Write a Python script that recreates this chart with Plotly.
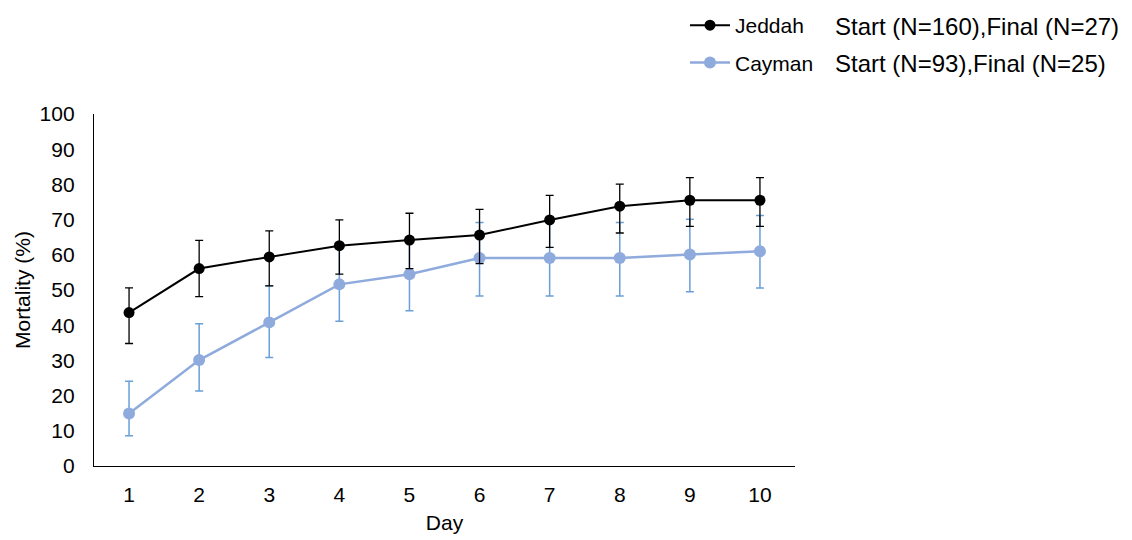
import plotly.graph_objects as go

days = [1, 2, 3, 4, 5, 6, 7, 8, 9, 10]
day_labels = [str(d) for d in days]

jeddah = [43.6, 56.1, 59.4, 62.6, 64.2, 65.6, 69.9, 73.8, 75.5, 75.5]
jeddah_err_up = [7.0, 8.0, 7.4, 7.3, 7.6, 7.3, 7.0, 6.3, 6.4, 6.4]
jeddah_err_down = [8.8, 8.0, 8.2, 8.1, 8.1, 8.1, 7.8, 7.6, 7.4, 7.4]

cayman = [14.9, 30.1, 40.8, 51.6, 54.5, 59.1, 59.1, 59.1, 60.1, 61.0]
cayman_err_up = [9.2, 10.3, 10.4, 10.5, 10.4, 10.1, 10.8, 10.1, 10.0, 10.2]
cayman_err_down = [6.3, 8.8, 10.0, 10.5, 10.4, 10.8, 10.8, 10.8, 10.6, 10.4]

legend_notes = ["Start (N=160),Final (N=27)", "Start (N=93),Final (N=25)"]

FONT = "Liberation Sans, Arial, sans-serif"

# the page body adds an 8px offset; work in figure pixels
OFF = 8
FW, FH = 1132 - OFF, 540 - OFF
L, R, T, B = 94 - OFF, 795 - OFF, 114 - OFF, 466 - OFF
W = R - L
H = B - T


def px_x(sx):
    return (sx - OFF - L) / W


def px_y(sy):
    return 1 + (T - (sy - OFF)) / H


fig = go.Figure()

fig.add_trace(go.Scatter(
    x=days, y=cayman, name="Cayman", mode="lines+markers",
    legendrank=2, legendgroup="c",
    line=dict(color="#8FAADC", width=2.5),
    marker=dict(color="#8FAADC", size=12),
    error_y=dict(type="data", array=cayman_err_up, arrayminus=cayman_err_down,
                 symmetric=False, color="#6A9FD8", thickness=1.5, width=4),
))
fig.add_trace(go.Scatter(
    x=days, y=jeddah, name="Jeddah", mode="lines+markers",
    legendrank=1, legendgroup="j",
    line=dict(color="#000000", width=2),
    marker=dict(color="#000000", size=11),
    error_y=dict(type="data", array=jeddah_err_up, arrayminus=jeddah_err_down,
                 symmetric=False, color="#000000", thickness=1.3, width=4),
))

for i, note in enumerate(legend_notes):
    fig.add_annotation(
        text=note, xref="paper", yref="paper",
        x=px_x(833), y=px_y(26 + 38 * i),
        xanchor="left", yanchor="middle", showarrow=False,
        font=dict(family=FONT, size=24, color="#000000"),
    )

fig.update_layout(
    width=FW, height=FH,
    margin=dict(l=L, r=FW - R, t=T, b=FH - B, autoexpand=False),
    paper_bgcolor="white", plot_bgcolor="white",
    font=dict(family=FONT, size=21, color="#000000"),
    showlegend=True,
    legend=dict(
        x=px_x(685), y=px_y(5),
        xanchor="left", yanchor="top",
        font=dict(family=FONT, size=21, color="#000000"),
        tracegroupgap=7, bgcolor="rgba(0,0,0,0)",
        itemwidth=40,
    ),
    xaxis=dict(
        range=[0.5, 10.5], tickvals=days, ticktext=day_labels,
        showgrid=False, zeroline=False, showline=True, automargin=False,
        linecolor="#000000", linewidth=1.3, ticks="",
        ticklabelstandoff=10,
        title=dict(text="Day", standoff=9, font=dict(size=21)),
    ),
    yaxis=dict(
        range=[0, 100], dtick=10, showgrid=False, zeroline=False,
        showline=True, linecolor="#000000", linewidth=1.3, ticks="",
        automargin=False, ticklabelstandoff=14,
        title=dict(text="Mortality (%)", standoff=3, font=dict(size=21)),
    ),
)

fig.write_html("out.html")
